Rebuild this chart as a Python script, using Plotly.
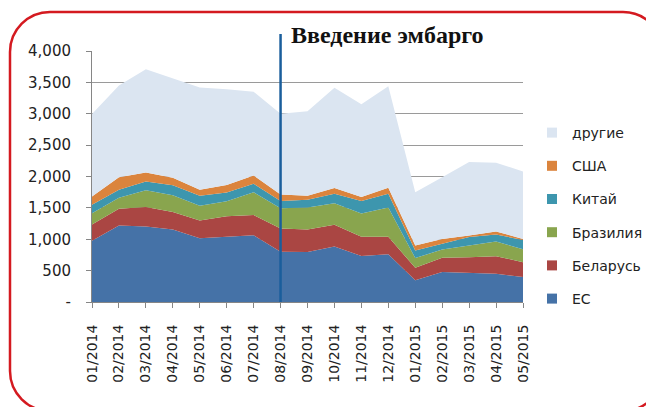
import plotly.graph_objects as go

months = ["01/2014", "02/2014", "03/2014", "04/2014", "05/2014", "06/2014", "07/2014",
          "08/2014", "09/2014", "10/2014", "11/2014", "12/2014", "01/2015", "02/2015",
          "03/2015", "04/2015", "05/2015"]
eu = [975, 1220, 1205, 1155, 1015, 1035, 1065, 800, 795, 885, 735, 760, 345, 480, 470, 450, 400]
belarus = [260, 265, 310, 280, 285, 330, 320, 370, 360, 345, 305, 280, 200, 225, 245, 280, 235]
brazil = [180, 175, 265, 265, 235, 240, 365, 325, 350, 345, 370, 465, 155, 130, 185, 235, 205]
china = [135, 130, 140, 160, 160, 140, 135, 115, 125, 150, 200, 220, 120, 90, 135, 110, 150]
usa = [130, 200, 145, 120, 95, 120, 130, 105, 65, 90, 65, 95, 80, 80, 25, 50, 15]
other = [1315, 1460, 1645, 1590, 1630, 1525, 1335, 1285, 1345, 1600, 1475, 1620, 850, 985, 1170, 1095, 1075]

series_names = ["ЕС", "Беларусь", "Бразилия", "Китай", "США", "другие"]
series_values = [eu, belarus, brazil, china, usa, other]
colors = ["#4572A7", "#AA4643", "#89A54E", "#3D96AE", "#DB843D", "#DBE5F1"]

y_tickvals = [0, 500, 1000, 1500, 2000, 2500, 3000, 3500, 4000]
y_ticktext = ["-", "500", "1,000", "1,500", "2,000", "2,500", "3,000", "3,500", "4,000"]
embargo_month = "08/2014"
embargo_text = "Введение эмбарго"

# page offset (default body margin of the html page)
OFF = 8
W, H = 654 - OFF, 407 - OFF
ML, MT = 92 - OFF, 51 - OFF
PW, PH = 431, 251
MR, MB = W - ML - PW, H - MT - PH

fig = go.Figure()
for name, vals, col in zip(series_names, series_values, colors):
    fig.add_trace(go.Scatter(
        x=months, y=vals, name=name, mode="lines", stackgroup="one",
        line=dict(width=0, color=col), fillcolor=col, showlegend=False,
        hoverinfo="x+y+name"))

# legend entries (square swatches), top-to-bottom order
for i, (name, col) in enumerate(reversed(list(zip(series_names, colors)))):
    fig.add_trace(go.Scatter(
        x=[None], y=[None], name=name, mode="markers", legendgroup="g%d" % i,
        marker=dict(symbol="square", size=10, color=col), showlegend=True))


def px2paper(px, py):
    """page pixel -> paper coords"""
    return (px - OFF - ML) / PW, (MT + PH - (py - OFF)) / PH


# rounded red frame
L, T, R, B, r = 10, 12, 663, 411, 40
k = 0.5523 * r
pts = [
    ("M", [(L + r, T)]),
    ("L", [(R - r, T)]),
    ("C", [(R - r + k, T), (R, T + r - k), (R, T + r)]),
    ("L", [(R, B - r)]),
    ("C", [(R, B - r + k), (R - r + k, B), (R - r, B)]),
    ("L", [(L + r, B)]),
    ("C", [(L + r - k, B), (L, B - r + k), (L, B - r)]),
    ("L", [(L, T + r)]),
    ("C", [(L, T + r - k), (L + r - k, T), (L + r, T)]),
]
path = ""
for cmd, ps in pts:
    path += cmd + " ".join("%.5f,%.5f" % px2paper(a, b) for a, b in ps) + " "
path += "Z"

fig.add_shape(type="path", path=path, xref="paper", yref="paper",
              line=dict(color="#D41A20", width=2.5), layer="above")

top_line = px2paper(0, 34)[1]
fig.add_shape(type="line", xref="x", yref="paper", x0=embargo_month, x1=embargo_month,
              y0=0, y1=top_line, line=dict(color="#1A5E9C", width=2.5), layer="above")

ax, ay = px2paper(289, 35)
fig.add_annotation(text="<b>%s</b>" % embargo_text, xref="paper", yref="paper",
                   x=ax, y=ay, xanchor="left", yanchor="middle", showarrow=False,
                   font=dict(family="Liberation Serif", size=24, color="#111111"))

lx, ly = px2paper(532, 117)
fig.update_layout(
    width=W, height=H,
    margin=dict(l=ML, r=MR, t=MT, b=MB, autoexpand=False),
    paper_bgcolor="white", plot_bgcolor="white",
    font=dict(family="DejaVu Sans", size=15, color="#222222"),
    showlegend=True,
    legend=dict(x=lx, y=ly, xanchor="left", yanchor="top", traceorder="grouped",
                tracegroupgap=12, itemwidth=30, bgcolor="rgba(0,0,0,0)",
                font=dict(family="DejaVu Sans", size=14, color="#222222")),
    xaxis=dict(type="category", range=[0, 16], showgrid=False, showline=True,
               linecolor="#868686", linewidth=1, ticks="outside", ticklen=5,
               tickcolor="#868686", tickangle=-90, ticklabelstandoff=11,
               tickfont=dict(size=14), zeroline=False, fixedrange=True),
    yaxis=dict(range=[0, 4000], tickvals=y_tickvals, ticktext=y_ticktext,
               showgrid=True, gridcolor="#9A9A9A", gridwidth=1.3, showline=True,
               linecolor="#868686", linewidth=1, ticks="outside", ticklen=5,
               tickcolor="#868686", ticklabelstandoff=12, zeroline=False,
               tickfont=dict(size=15), fixedrange=True),
)

fig.write_html("out.html")
